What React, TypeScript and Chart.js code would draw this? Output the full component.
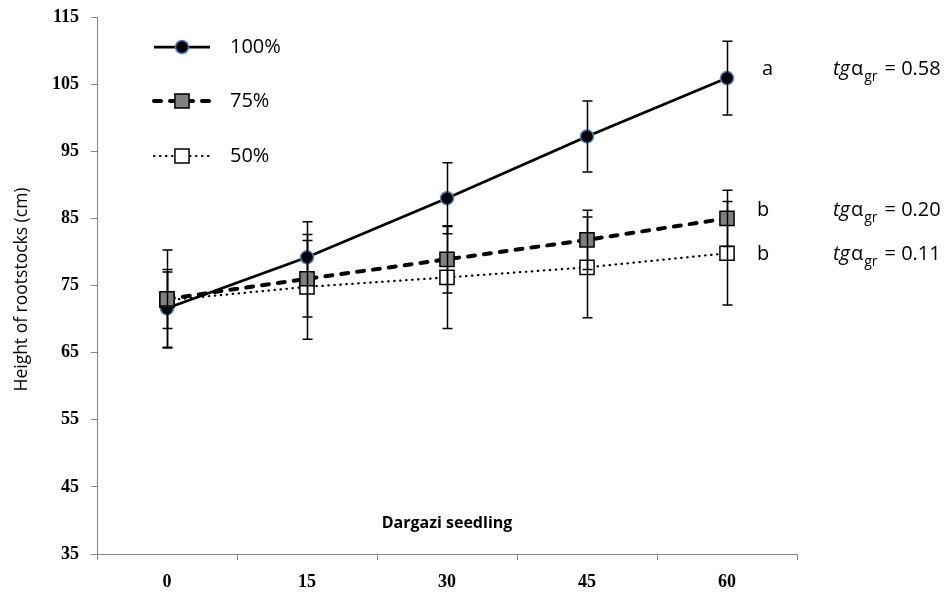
import React, { useEffect, useRef } from 'react';
import { Chart, registerables } from 'chart.js';

Chart.register(...registerables);

// ---- data ----
const categories = ['0', '15', '30', '45', '60'];
const seriesNames = ['100%', '75%', '50%'];
const values100 = [71.6, 79.2, 88.0, 97.2, 105.9];
const values75 = [73.0, 76.0, 78.9, 81.8, 85.0];
const values50 = [72.8, 74.8, 76.2, 77.7, 79.8];
const errors100 = [5.8, 5.3, 5.3, 5.3, 5.5];
const errors75 = [7.3, 5.7, 5.0, 4.4, 4.2];
const errors50 = [4.2, 7.8, 7.6, 7.5, 7.7];
const yMin = 35;
const yMax = 115;
const yStep = 10;
const groupLetters = ['a', 'b', 'b'];
const slopeValues = ['0.58', '0.20', '0.11'];
const annotationY = [107.2, 86.2, 79.7];
const xAxisTitle = 'Dargazi seedling';
const yAxisTitle = 'Height of rootstocks (cm)';

const valueSets = [values100, values75, values50];
const errorSets = [errors100, errors75, errors50];
const drawOrder = [2, 0, 1];

const AXIS_GRAY = '#868686';
const SANS = '"Open Sans", "Liberation Sans", sans-serif';
const SERIF = '"Liberation Serif", "Times New Roman", serif';

const styles = [
  { dash: [] as number[], width: 2.75, cap: 'butt', point: 'circle', radius: 6.5, fill: '#000000', stroke: '#4f81bd', pbw: 1.5 },
  { dash: [7, 9], width: 4, cap: 'round', point: 'rect', radius: 10, fill: '#7f7f7f', stroke: '#000000', pbw: 1.5 },
  { dash: [0.5, 5.5], width: 2.2, cap: 'round', point: 'rect', radius: 10, fill: '#ffffff', stroke: '#000000', pbw: 1.5 },
];

const errorBarPlugin = {
  id: 'errorBars',
  afterDatasetDraw(chart: any, args: any) {
    const idx = args.index;
    const errs = errorSets[idx];
    const vals = valueSets[idx];
    const yScale = chart.scales.y;
    const ctx = chart.ctx;
    ctx.save();
    ctx.strokeStyle = '#000000';
    ctx.lineWidth = 1.5;
    ctx.setLineDash([]);
    args.meta.data.forEach((pt: any, i: number) => {
      const x = Math.round(pt.x) + 0.5;
      const yT = yScale.getPixelForValue(vals[i] + errs[i]);
      const yB = yScale.getPixelForValue(vals[i] - errs[i]);
      ctx.beginPath();
      ctx.moveTo(x, yT);
      ctx.lineTo(x, yB);
      ctx.moveTo(x - 5, yT);
      ctx.lineTo(x + 5, yT);
      ctx.moveTo(x - 5, yB);
      ctx.lineTo(x + 5, yB);
      ctx.stroke();
    });
    ctx.restore();
  },
};

function drawMarker(ctx: CanvasRenderingContext2D, s: any, x: number, y: number) {
  ctx.save();
  ctx.setLineDash([]);
  ctx.fillStyle = s.fill;
  ctx.strokeStyle = s.stroke;
  ctx.lineWidth = s.pbw;
  ctx.beginPath();
  if (s.point === 'circle') {
    ctx.arc(x, y, s.radius, 0, Math.PI * 2);
  } else {
    const h = Math.SQRT1_2 * s.radius;
    ctx.rect(x - h, y - h, 2 * h, 2 * h);
  }
  ctx.fill();
  ctx.stroke();
  ctx.restore();
}

const decorPlugin = {
  id: 'decor',
  afterDraw(chart: any) {
    const ctx: CanvasRenderingContext2D = chart.ctx;
    const area = chart.chartArea;
    const yScale = chart.scales.y;
    const xScale = chart.scales.x;
    ctx.save();

    // y axis title
    ctx.save();
    ctx.translate(22, (area.top + area.bottom) / 2 + 4);
    ctx.rotate(-Math.PI / 2);
    ctx.fillStyle = '#000';
    ctx.font = `17.5px ${SANS}`;
    ctx.textAlign = 'center';
    ctx.textBaseline = 'middle';
    ctx.fillText(yAxisTitle, 0, 0);
    ctx.restore();

    // x title inside plot
    ctx.fillStyle = '#000';
    ctx.font = `bold 16px ${SANS}`;
    ctx.textAlign = 'center';
    ctx.textBaseline = 'middle';
    ctx.fillText(xAxisTitle, (area.left + area.right) / 2, area.bottom - 31);

    // legend
    const legX0 = area.left + 57;
    const legX1 = area.left + 113;
    const legTextX = area.left + 133;
    const legY = [area.top + 30, area.top + 84, area.top + 139];
    seriesNames.forEach((name, i) => {
      const s = styles[i];
      ctx.save();
      ctx.strokeStyle = '#000';
      ctx.lineWidth = s.width;
      ctx.lineCap = s.cap as CanvasLineCap;
      ctx.setLineDash(s.dash);
      ctx.beginPath();
      ctx.moveTo(legX0, legY[i]);
      ctx.lineTo(legX1, legY[i]);
      ctx.stroke();
      ctx.restore();
      drawMarker(ctx, s, (legX0 + legX1) / 2, legY[i]);
      ctx.fillStyle = '#000';
      ctx.font = `20px ${SANS}`;
      ctx.textAlign = 'left';
      ctx.textBaseline = 'middle';
      ctx.fillText(name, legTextX, legY[i]);
    });

    // annotations
    const lastX = xScale.getPixelForValue(categories.length - 1);
    groupLetters.forEach((letter, i) => {
      const y = yScale.getPixelForValue(annotationY[i]);
      ctx.fillStyle = '#000';
      ctx.textBaseline = 'middle';
      ctx.textAlign = 'left';
      ctx.font = `20px ${SANS}`;
      ctx.fillText(letter, lastX + (letter === 'a' ? 35 : 30), y);
      let x = area.right + 36;
      ctx.font = `italic 20px ${SANS}`;
      ctx.fillText('tg', x, y);
      x += ctx.measureText('tg').width + 1;
      ctx.font = `20px ${SANS}`;
      ctx.fillText('α', x, y);
      x += ctx.measureText('α').width + 1;
      ctx.font = `14px ${SANS}`;
      ctx.fillText('gr', x, y + 8);
      x += ctx.measureText('gr').width + 7;
      ctx.font = `20px ${SANS}`;
      ctx.fillText('= ' + slopeValues[i], x, y);
    });

    ctx.restore();
  },
};

export default function App() {
  const canvasRef = useRef<HTMLCanvasElement | null>(null);

  useEffect(() => {
    const canvas = canvasRef.current;
    if (!canvas) return;
    const datasets = seriesNames.map((name, i) => {
      const s = styles[i];
      return {
        label: name,
        data: valueSets[i],
        borderColor: '#000000',
        borderWidth: s.width,
        borderDash: s.dash,
        borderCapStyle: s.cap,
        pointStyle: s.point,
        pointRadius: s.radius,
        pointBackgroundColor: s.fill,
        pointBorderColor: s.stroke,
        pointBorderWidth: s.pbw,
        fill: false,
        tension: 0,
        order: drawOrder[i],
      };
    });
    const chart = new Chart(canvas, {
      type: 'line',
      data: { labels: categories, datasets: datasets as any },
      options: {
        responsive: false,
        animation: false,
        devicePixelRatio: 1,
        layout: { autoPadding: false, padding: { left: 0, top: 17, right: 151, bottom: 0 } },
        plugins: {
          legend: { display: false },
          tooltip: { enabled: false },
          title: { display: false },
        },
        scales: {
          x: {
            type: 'category',
            offset: true,
            grid: {
              offset: true,
              drawOnChartArea: false,
              drawTicks: true,
              tickLength: 6,
              color: AXIS_GRAY,
              lineWidth: 1,
            },
            border: { display: true, color: AXIS_GRAY, width: 1 },
            ticks: {
              color: '#000',
              font: { family: SERIF, size: 18, weight: 'bold' },
              padding: 12,
              maxRotation: 0,
            },
            afterFit: (scale: any) => {
              scale.height = 46;
              scale.paddingLeft = 0;
              scale.paddingRight = 0;
            },
          },
          y: {
            min: yMin,
            max: yMax,
            grid: {
              drawOnChartArea: false,
              drawTicks: true,
              tickLength: 6,
              color: AXIS_GRAY,
              lineWidth: 1,
            },
            border: { display: true, color: AXIS_GRAY, width: 1 },
            ticks: {
              stepSize: yStep,
              color: '#000',
              font: { family: SERIF, size: 18, weight: 'bold' },
              padding: 12,
            },
            afterFit: (scale: any) => {
              scale.width = 97;
              scale.paddingTop = 0;
              scale.paddingBottom = 0;
            },
          },
        },
      },
      plugins: [errorBarPlugin, decorPlugin],
    });
    return () => chart.destroy();
  }, []);

  return (
    <div style={{ position: 'absolute', left: 0, top: 0, width: 948, height: 600, background: '#fff' }}>
      <canvas ref={canvasRef} width={948} height={600} />
    </div>
  );
}
